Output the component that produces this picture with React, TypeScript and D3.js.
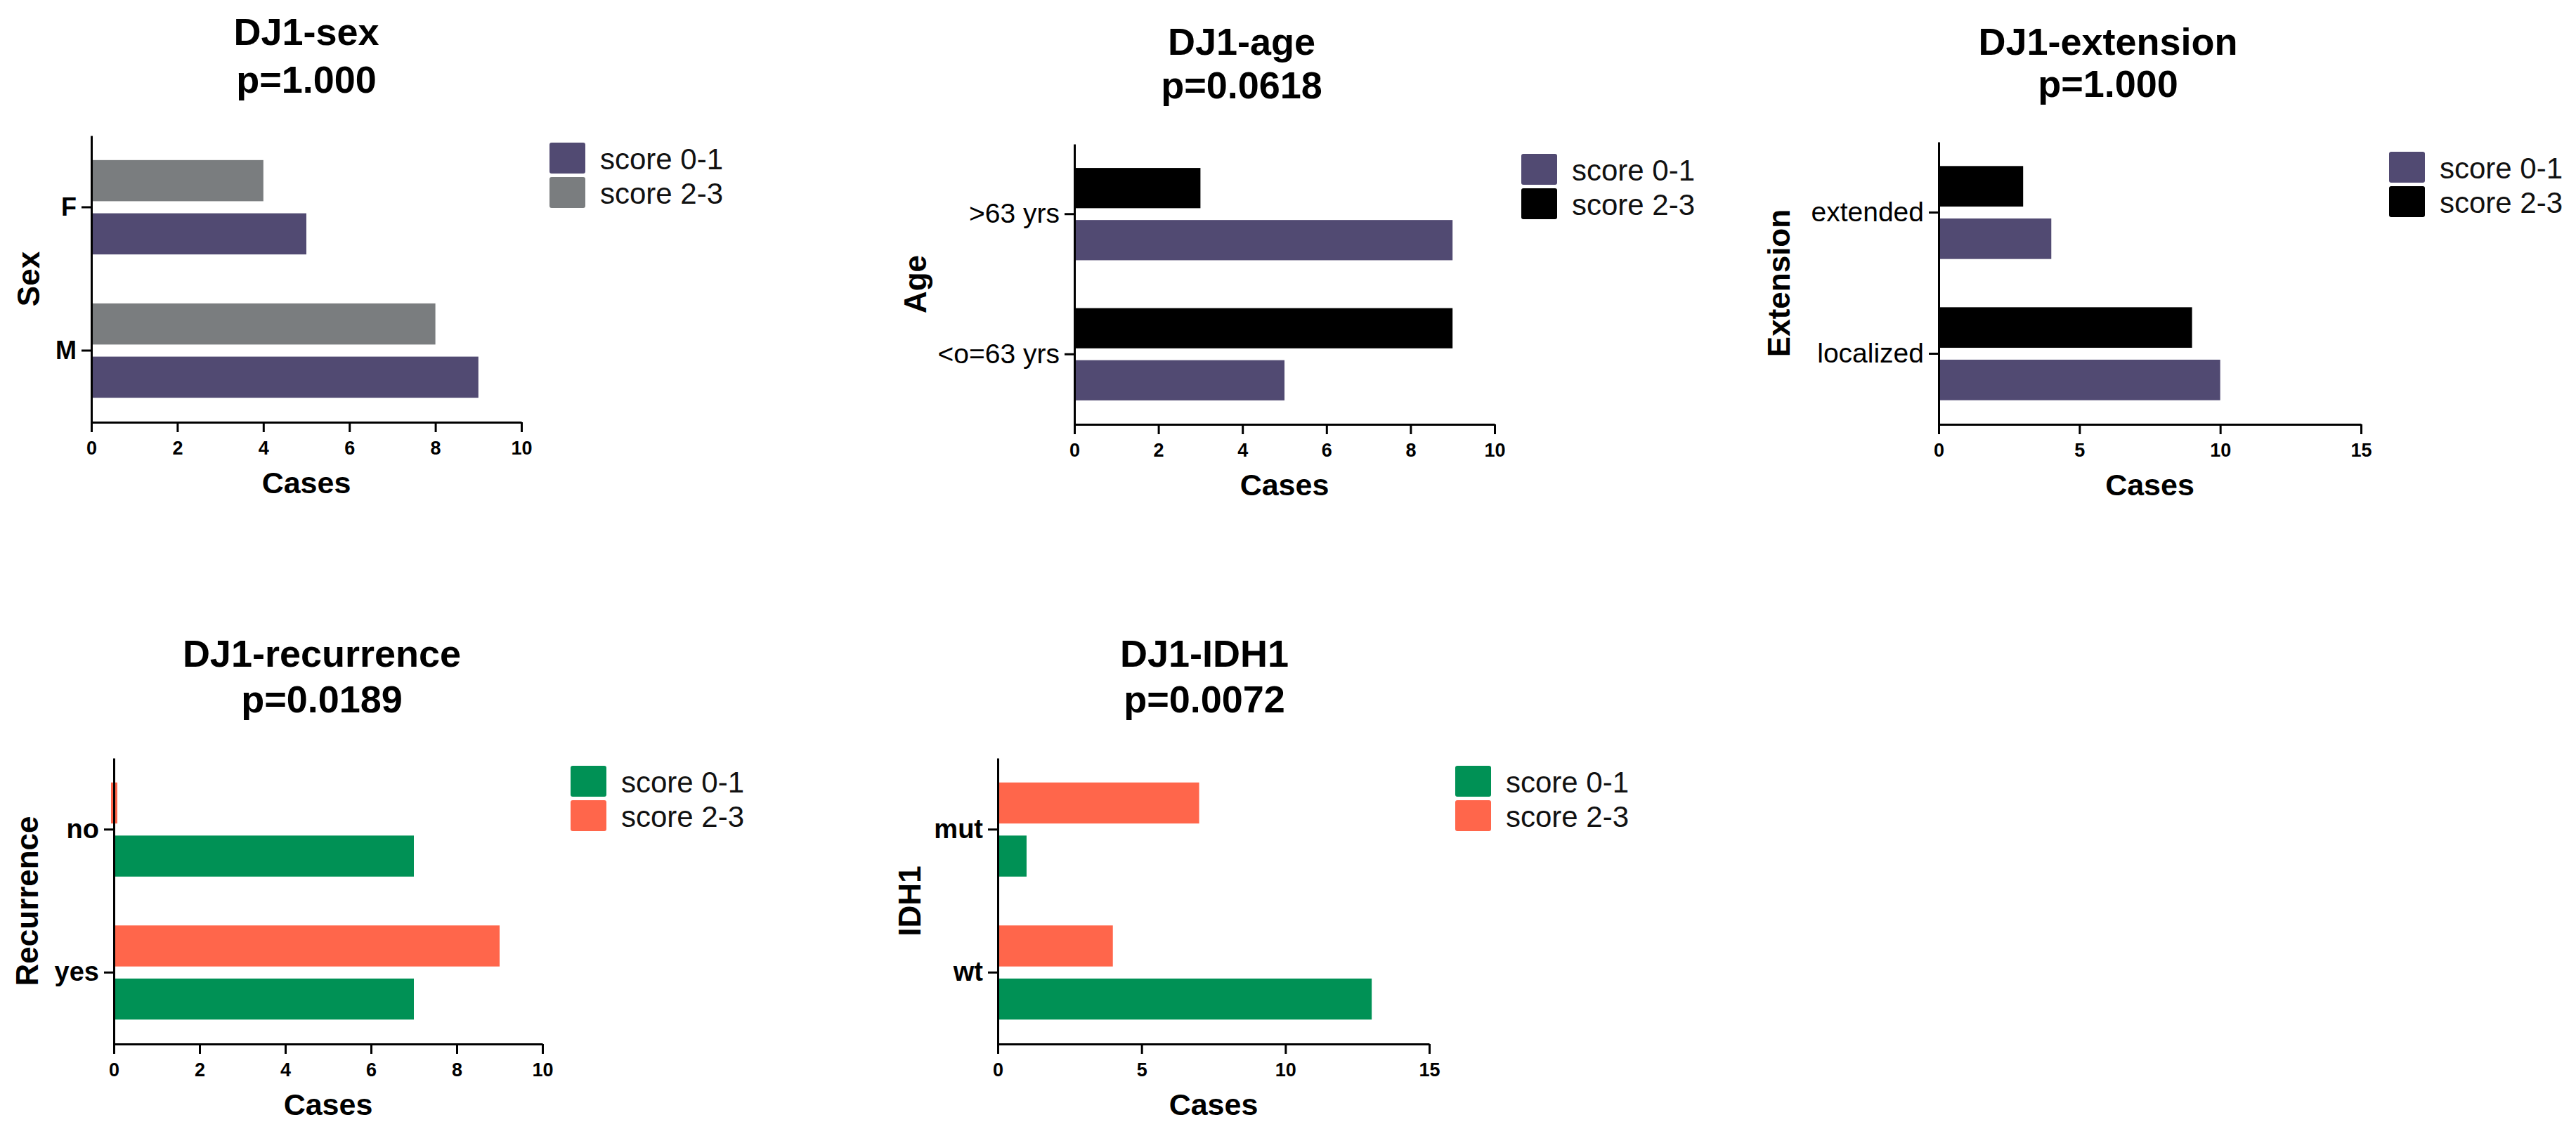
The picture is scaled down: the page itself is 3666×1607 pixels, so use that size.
import { useEffect, useRef } from 'react';
import * as d3 from 'd3';

// Series / legend
const seriesNames = ['score 0-1', 'score 2-3'];

// DJ1-sex
const sexCategories = ['F', 'M'];
const sexScore01 = [5, 9];
const sexScore23 = [4, 8];

// DJ1-age
const ageCategories = ['>63 yrs', '<o=63 yrs'];
const ageScore01 = [9, 5];
const ageScore23 = [3, 9];

// DJ1-extension
const extensionCategories = ['extended', 'localized'];
const extensionScore01 = [4, 10];
const extensionScore23 = [3, 9];

// DJ1-recurrence
const recurrenceCategories = ['no', 'yes'];
const recurrenceScore01 = [7, 7];
const recurrenceScore23 = [0, 9];

// DJ1-IDH1
const idh1Categories = ['mut', 'wt'];
const idh1Score01 = [1, 13];
const idh1Score23 = [7, 4];

// x-axis ticks
const ticksTo10 = [0, 2, 4, 6, 8, 10];
const ticksTo15 = [0, 5, 10, 15];

const PURPLE = '#514a72';
const GRAY = '#7a7d7f';
const BLACK = '#000000';
const GREEN = '#009155';
const RED = '#ff664b';

const FONT = "'Liberation Sans', Arial, sans-serif";

type PanelProps = {
  title: string;
  pValue: string;
  yLabel: string;
  categories: string[];
  score01: number[];
  score23: number[];
  xMax: number;
  xTicks: number[];
  colors: [string, string];
  catBold: boolean;
  catSize: number;
  left: number;
  right: number;
  top: number;
  bottom: number;
  titleX: number;
  titleY: number;
  pY: number;
  yLabelX: number;
  legendX: number;
  legendY: number;
};

const panels: PanelProps[] = [
  {
    title: 'DJ1-sex', pValue: 'p=1.000', yLabel: 'Sex',
    categories: sexCategories, score01: sexScore01, score23: sexScore23,
    xMax: 10, xTicks: ticksTo10, colors: [PURPLE, GRAY], catBold: true, catSize: 36,
    left: 130, right: 742, top: 193, bottom: 601,
    titleX: 436, titleY: 64, pY: 132, yLabelX: 40, legendX: 782, legendY: 203,
  },
  {
    title: 'DJ1-age', pValue: 'p=0.0618', yLabel: 'Age',
    categories: ageCategories, score01: ageScore01, score23: ageScore23,
    xMax: 10, xTicks: ticksTo10, colors: [PURPLE, BLACK], catBold: false, catSize: 39,
    left: 1529, right: 2127, top: 205, bottom: 604,
    titleX: 1767, titleY: 78, pY: 140, yLabelX: 1302, legendX: 2165, legendY: 219,
  },
  {
    title: 'DJ1-extension', pValue: 'p=1.000', yLabel: 'Extension',
    categories: extensionCategories, score01: extensionScore01, score23: extensionScore23,
    xMax: 15, xTicks: ticksTo15, colors: [PURPLE, BLACK], catBold: false, catSize: 39,
    left: 2759, right: 3360, top: 202, bottom: 604,
    titleX: 3000, titleY: 78, pY: 138, yLabelX: 2531, legendX: 3400, legendY: 216,
  },
  {
    title: 'DJ1-recurrence', pValue: 'p=0.0189', yLabel: 'Recurrence',
    categories: recurrenceCategories, score01: recurrenceScore01, score23: recurrenceScore23,
    xMax: 10, xTicks: ticksTo10, colors: [GREEN, RED], catBold: true, catSize: 38,
    left: 162, right: 772, top: 1079, bottom: 1486,
    titleX: 458, titleY: 949, pY: 1014, yLabelX: 38, legendX: 812, legendY: 1090,
  },
  {
    title: 'DJ1-IDH1', pValue: 'p=0.0072', yLabel: 'IDH1',
    categories: idh1Categories, score01: idh1Score01, score23: idh1Score23,
    xMax: 15, xTicks: ticksTo15, colors: [GREEN, RED], catBold: true, catSize: 38,
    left: 1420, right: 2034, top: 1079, bottom: 1486,
    titleX: 1714, titleY: 949, pY: 1014, yLabelX: 1294, legendX: 2071, legendY: 1090,
  },
];

function BarPanel(props: PanelProps) {
  const gRef = useRef<SVGGElement | null>(null);

  useEffect(() => {
    const g = d3.select(gRef.current);
    g.selectAll('*').remove();

    const { left, right, top, bottom } = props;

    // Scales
    const x = d3.scaleLinear().domain([0, props.xMax]).range([left, right]);
    const y = d3
      .scaleBand<string>()
      .domain(props.categories)
      .range([top, bottom])
      .paddingInner(0)
      .paddingOuter(0);
    // score 2-3 sits on top, score 0-1 underneath
    const sub = d3
      .scaleBand<string>()
      .domain([seriesNames[1], seriesNames[0]])
      .range([0, y.bandwidth()])
      .paddingInner(0.227)
      .paddingOuter(0.46);
    const color = d3
      .scaleOrdinal<string, string>()
      .domain(seriesNames)
      .range(props.colors);

    const rows = props.categories.flatMap((c, i) => [
      { cat: c, series: seriesNames[0], value: props.score01[i] },
      { cat: c, series: seriesNames[1], value: props.score23[i] },
    ]);

    // Bars (a zero count still shows as a thin sliver across the axis, as in Prism)
    const barW = (v: number) => x(v) - x(0);
    g.selectAll('.bar')
      .data(rows)
      .enter()
      .append('rect')
      .attr('class', 'bar')
      .attr('x', (d) => (barW(d.value) < 5 ? x(0) - 4 : x(0)))
      .attr('y', (d) => y(d.cat)! + sub(d.series)!)
      .attr('width', (d) => (barW(d.value) < 5 ? 9 : barW(d.value)))
      .attr('height', sub.bandwidth())
      .attr('fill', (d) => color(d.series));

    // x axis
    const xAxis = g
      .append('g')
      .attr('transform', `translate(0,${bottom})`)
      .call(
        d3
          .axisBottom(x)
          .tickValues(props.xTicks)
          .tickFormat(d3.format('d'))
          .tickSize(14)
          .tickSizeOuter(0)
          .tickPadding(13)
      );
    xAxis.select('.domain').attr('stroke-width', 3);
    xAxis.selectAll('.tick line').attr('stroke-width', 3);
    xAxis
      .selectAll('.tick text')
      .attr('font-family', FONT)
      .attr('font-weight', 'bold')
      .attr('font-size', 27)
      .attr('fill', '#000');

    // y axis
    const yAxis = g
      .append('g')
      .attr('transform', `translate(${left},0)`)
      .call(d3.axisLeft(y).tickSize(14).tickSizeOuter(0).tickPadding(7));
    yAxis.select('.domain').attr('stroke-width', 3);
    yAxis.selectAll('.tick line').attr('stroke-width', 3);
    yAxis
      .selectAll('.tick text')
      .attr('font-family', FONT)
      .attr('font-weight', props.catBold ? 'bold' : 'normal')
      .attr('font-size', props.catSize)
      .attr('fill', '#000');

    // Title
    const titleG = g
      .append('g')
      .attr('font-family', FONT)
      .attr('font-weight', 'bold')
      .attr('font-size', 54)
      .attr('text-anchor', 'middle');
    titleG.append('text').attr('x', props.titleX).attr('y', props.titleY).text(props.title);
    titleG.append('text').attr('x', props.titleX).attr('y', props.pY).text(props.pValue);

    // Axis titles
    g.append('text')
      .attr('x', (left + right) / 2)
      .attr('y', bottom + 101)
      .attr('text-anchor', 'middle')
      .attr('font-family', FONT)
      .attr('font-weight', 'bold')
      .attr('font-size', 43)
      .text('Cases');

    g.append('text')
      .attr('transform', `translate(${props.yLabelX + 16},${(top + bottom) / 2}) rotate(-90)`)
      .attr('text-anchor', 'middle')
      .attr('font-family', FONT)
      .attr('font-weight', 'bold')
      .attr('font-size', 44)
      .text(props.yLabel);

    // Legend
    const legend = g
      .append('g')
      .attr('transform', `translate(${props.legendX},${props.legendY})`);
    const items = legend
      .selectAll('g')
      .data(seriesNames)
      .enter()
      .append('g')
      .attr('transform', (_, i) => `translate(0,${i * 49})`);
    items
      .append('rect')
      .attr('width', 51)
      .attr('height', 44)
      .attr('rx', 3)
      .attr('fill', (d) => color(d));
    items
      .append('text')
      .attr('x', 72)
      .attr('y', 38)
      .attr('font-family', FONT)
      .attr('font-size', 42)
      .attr('fill', '#111')
      .text((d) => d);
  }, []);

  return <g ref={gRef}></g>;
}

export default function App() {
  return (
    <svg
      width={3666}
      height={1607}
      style={{ position: 'absolute', left: 0, top: 0, background: '#fff' }}
    >
      <rect width={3666} height={1607} fill="#fff" />
      {panels.map((p) => (
        <BarPanel key={p.title} {...p} />
      ))}
    </svg>
  );
}
